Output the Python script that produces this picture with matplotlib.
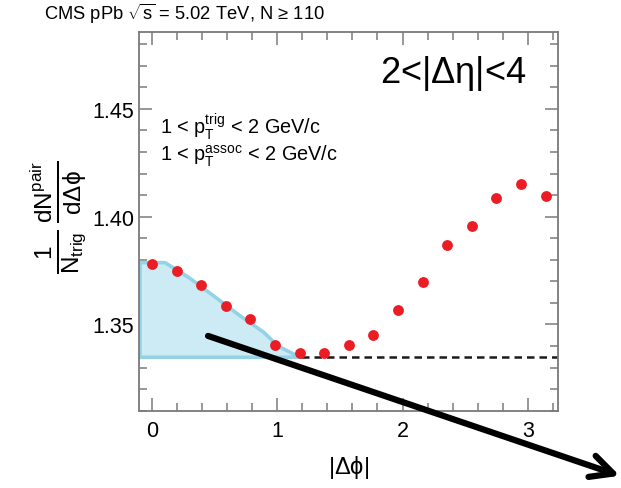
import numpy as np
import matplotlib
matplotlib.use("Agg")
import matplotlib.pyplot as plt
from matplotlib.ticker import MultipleLocator

plt.rcParams['font.family'] = ['Liberation Sans', 'DejaVu Sans']
plt.rcParams['mathtext.fontset'] = 'custom'
plt.rcParams['mathtext.rm'] = 'Liberation Sans'
plt.rcParams['mathtext.it'] = 'Liberation Sans'
plt.rcParams['mathtext.sf'] = 'Liberation Sans'

# Azimuthal correlation, 2<|d_eta|<4, 1<pT<2 GeV/c
dphi = [0.000, 0.196, 0.393, 0.589, 0.785, 0.982, 1.178, 1.374, 1.571,
        1.767, 1.963, 2.160, 2.356, 2.553, 2.749, 2.945, 3.142]
yield_pair = [1.3781, 1.3750, 1.3685, 1.3585, 1.3526, 1.3403, 1.3368, 1.3368,
              1.3406, 1.3452, 1.3569, 1.3699, 1.3868, 1.3956, 1.4085, 1.4151, 1.4097]

# Near-side fit curve and ZYAM level
fit_x = [-0.10, 0.10, 0.29, 0.49, 0.70, 0.89, 1.00, 1.05, 1.17]
fit_y = [1.3789, 1.3789, 1.3720, 1.3634, 1.3542, 1.3465, 1.3403, 1.3388, 1.3352]
zyam = 1.335

xticks = [0, 1, 2, 3]
yticks = [1.35, 1.40, 1.45]
ytick_labels = ['1.35', '1.40', '1.45']

fig = plt.figure(figsize=(6.21, 4.89), dpi=100)
ax = fig.add_axes([0.2246, 0.1581, 0.6740, 0.7738])

ax.set_xlim(-0.1, 3.2416)
ax.set_ylim(1.310, 1.4855)

ax.axhline(zyam, color='#1a1a1a', lw=1.8, ls=(0, (3.0, 2.0)), zorder=1)
ax.fill_between(fit_x, zyam, fit_y, facecolor='#cdebf4', edgecolor='#94d3e6',
                lw=2.6, zorder=2)
ax.plot(dphi, yield_pair, 'o', color='#ec1c24', ms=7.8, mec='none', zorder=3)

grey = '#7a7a7a'
for s in ax.spines.values():
    s.set_color(grey)
    s.set_linewidth(1.3)
ax.xaxis.set_major_locator(MultipleLocator(1))
ax.xaxis.set_minor_locator(MultipleLocator(0.2))
ax.yaxis.set_major_locator(MultipleLocator(0.05))
ax.yaxis.set_minor_locator(MultipleLocator(0.01))
ax.set_xticks(xticks)
ax.set_yticks(yticks)
ax.set_yticklabels(ytick_labels)
ax.tick_params(which='both', direction='in', top=True, right=True, color=grey,
               width=1.1, labelsize=15.5, labelcolor='black')
ax.tick_params(which='major', length=9.5)
ax.tick_params(axis='y', which='major', pad=4)
ax.tick_params(axis='x', which='major', pad=7)
ax.tick_params(which='minor', length=5.5)

ax.set_xlabel(r'$|\Delta\phi|$', fontsize=17, labelpad=8)

fig.text(0.095, 0.555,
         r'$\frac{1}{\mathrm{N_{trig}}}\,\frac{\mathrm{dN^{pair}}}{\mathrm{d}\Delta\phi}$',
         rotation=90, ha='center', va='center', fontsize=25)

fig.text(0.071, 0.971, 'CMS pPb $\\sqrt{\\mathrm{s}}$ = 5.02 TeV, N \u2265 110',
         ha='left', va='center', fontsize=13.2)

ax.text(0.925, 0.895, r'2<$|\Delta\eta|$<4', transform=ax.transAxes,
        ha='right', va='center', fontsize=26)
ax.text(0.049, 0.753, r'1 < p$_{\mathrm{T}}^{\mathrm{trig}}$ < 2 GeV/c',
        transform=ax.transAxes, ha='left', va='center', fontsize=14.3)
ax.text(0.049, 0.674, r'1 < p$_{\mathrm{T}}^{\mathrm{assoc}}$ < 2 GeV/c',
        transform=ax.transAxes, ha='left', va='center', fontsize=14.3)

ax.annotate('', xy=(0.998, 0.025), xycoords='figure fraction',
            xytext=(0.335, 0.311), textcoords='figure fraction',
            arrowprops=dict(arrowstyle='->,head_length=1.6,head_width=0.8',
                            lw=4.5, color='black', shrinkA=0, shrinkB=0),
            annotation_clip=False, zorder=5)

fig.savefig('out.png', dpi=100)
